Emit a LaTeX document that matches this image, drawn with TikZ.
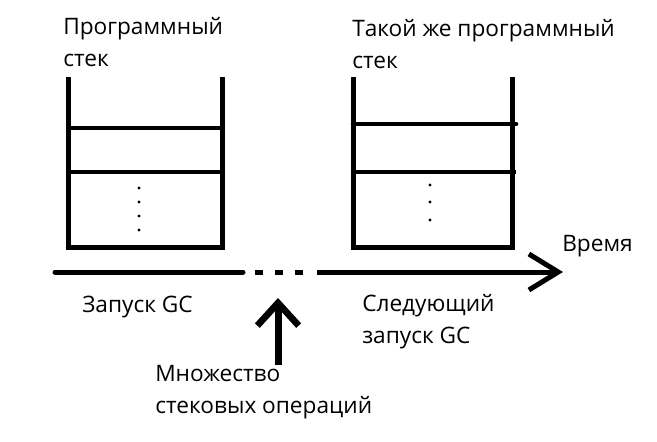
\documentclass[tikz,border=0pt]{standalone}
\usepackage{fontspec}
\setmainfont{Open Sans}
\usetikzlibrary{arrows.meta}
\tikzset{wall/.style = {line width=3.75pt, line join=miter}}
\tikzset{shelf/.style = {line width=3.5pt}}
\tikzset{thinshelf/.style = {line width=2.3pt}}
\tikzset{circ/.style = {fill, circle, inner sep = 0, minimum size = 2.6pt}}
\tikzset{txt/.style = {anchor=base west, inner sep=0, align=left,
                       font=\fontsize{17}{24}\selectfont}}
\tikzset{axis/.style = {line width=3.75pt}}
\tikzset{time/.style = {-{Straight Barb[length=22pt, width=27pt, line width=3.75pt]}}}
\tikzset{push/.style = {line width=5.25pt,
                        -{Straight Barb[length=17pt, width=31pt, line width=5pt]}}}

\begin{document}
\begin{tikzpicture}[x=0.75pt, y=-0.75pt]
          \useasboundingbox (0,0) rectangle (657,442);
          % first stack
          \draw [wall] (68,77) -- (68,247) -- (222,247) -- (222,77);
          \draw [shelf] (68,128) -- (222,128);
          \draw [shelf] (68,172) -- (222,172);
          \foreach \y in {188,202,216,230}
            \node [circ] at (139,\y) {};

          % second stack
          \draw [wall] (353,77) -- (353,247) -- (512,247) -- (512,77);
          \draw [shelf, line cap=round] (353,124) -- (516,124);
          \draw [thinshelf] (353,172) -- (516,172);
          \foreach \y in {185,202,220}
            \node [circ] at (430,\y) {};

          % base of a two-line text is its last line
          \node [txt] (stackA) at (63,67) {Программный\\стек};
          \node [txt] (stackB) at (352,69) {Такой же программный\\стек};

          % time axis
          \coordinate (t0) at (55,272);
          \coordinate (gapL) at (243,272);
          \coordinate (gapR) at (317,272);
          \coordinate (tEnd) at (563,272);
          \draw [axis, line cap=round] (t0) -- (gapL);
          \foreach \x in {255,275,295}
            \draw [axis] (\x,272) -- ++(8,0);
          \draw [axis, time] (gapR) -- (tEnd);
          \node [txt] (time) at (562,252) {Время};

          \node [txt] (gcA) at (82,312) {Запуск GC};
          \node [txt] (gcB) at (362,343) {Следующий\\запуск GC};

          \node [txt] (ops) at (155,413) {Множество\\стековых операций};
          \coordinate (opsTip) at (278,298);
          \draw [push] (ops.north -| opsTip) -- (opsTip);
        \end{tikzpicture}
\end{document}
